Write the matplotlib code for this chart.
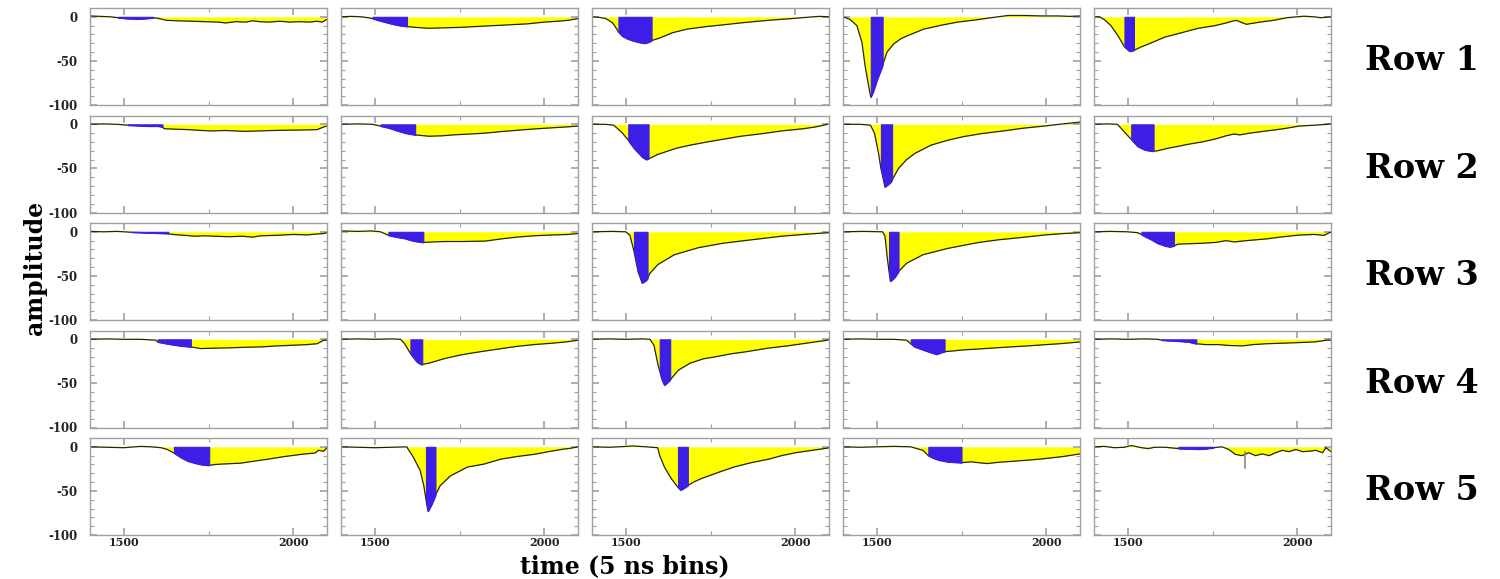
import numpy as np
import matplotlib.pyplot as plt

# ---- waveforms: time (5 ns bins) / amplitude ----
r1c1_t = [1400, 1430, 1460, 1483, 1510, 1540, 1565, 1587, 1605, 1625, 1660, 1700, 1740, 1780, 1800, 1830, 1860, 1880, 1900, 1930, 1960, 1990, 2020, 2050, 2070, 2085, 2100]
r1c1_a = [1, 0.5, 0, -1, -2, -2.5, -2, -1, -2, -4, -4.5, -5, -5.5, -6, -7, -5.5, -6, -4.5, -5.5, -6, -5, -6, -5.5, -6, -5, -6, -3]
r1c2_t = [1400, 1430, 1460, 1480, 1493, 1520, 1550, 1575, 1595, 1620, 1660, 1700, 1750, 1800, 1850, 1900, 1950, 2000, 2040, 2070, 2100]
r1c2_a = [0, 0.5, 0, -1, -2, -5, -8, -10, -11, -12, -13, -12.5, -12, -11, -10, -9, -8, -6, -5, -4, -2]
r1c3_t = [1400, 1420, 1441, 1461, 1470, 1478, 1490, 1505, 1520, 1540, 1555, 1565, 1576, 1600, 1638, 1680, 1739, 1790, 1837, 1890, 1936, 1990, 2037, 2070, 2100]
r1c3_a = [0, -0.5, -2, -7, -12, -17, -22, -25, -27, -29, -30, -29, -27, -24, -18, -14, -11, -9, -7, -5, -3.5, -2, -0.5, 0.5, 0]
r1c4_t = [1400, 1421, 1441, 1456, 1465, 1475, 1482, 1490, 1500, 1517, 1530, 1549, 1570, 1590, 1638, 1689, 1738, 1788, 1838, 1887, 1937, 1986, 2036, 2070, 2100]
r1c4_a = [0, -3, -10, -29, -55, -77, -91, -84, -72, -55, -40, -31, -25, -21.5, -14, -9.6, -6, -3.7, -1, 1.5, 1.5, 1, 1, 0.5, 1]
r1c5_t = [1400, 1415, 1430, 1450, 1470, 1490, 1505, 1518, 1540, 1560, 1609, 1659, 1708, 1757, 1790, 1808, 1820, 1850, 1890, 1930, 1970, 2020, 2050, 2070, 2100]
r1c5_a = [0, 0, -3, -10, -21, -34, -39, -38, -34, -31, -23, -18, -13, -10, -7, -5, -4, -8.5, -6, -4, -1, 0.7, 0, -1, 0]

r2c1_t = [1400, 1440, 1480, 1512, 1540, 1570, 1600, 1614, 1619, 1650, 1690, 1730, 1762, 1800, 1857, 1900, 1940, 1976, 2020, 2071, 2090, 2100]
r2c1_a = [0, 0.5, 0, -1, -1.5, -2, -2, -3, -5, -5.5, -6, -7, -7.5, -7, -8, -7.5, -7, -6.7, -6.5, -6, -3, -2]
r2c2_t = [1400, 1450, 1493, 1517, 1540, 1564, 1590, 1619, 1660, 1700, 1731, 1780, 1826, 1880, 1945, 2000, 2064, 2100]
r2c2_a = [0, 0.5, 0, -2, -4, -7, -10, -12, -13.5, -13, -12, -11, -10, -8, -6, -4.5, -3, -2]
r2c3_t = [1400, 1440, 1464, 1476, 1490, 1507, 1524, 1548, 1560, 1567, 1571, 1595, 1619, 1650, 1690, 1740, 1786, 1840, 1905, 1960, 2024, 2060, 2095]
r2c3_a = [0, 0, -1, -5, -10, -18, -27, -37, -40, -39, -38.5, -34, -31, -27, -23.6, -20, -17, -13.5, -10.5, -7.5, -5, -3, 0]
r2c4_t = [1400, 1450, 1481, 1493, 1505, 1512, 1524, 1540, 1545, 1564, 1588, 1612, 1660, 1710, 1755, 1810, 1874, 1930, 1993, 2050, 2100]
r2c4_a = [0, 0, -1, -10, -33, -50, -71, -66, -63, -50, -40, -33, -23.6, -18, -14, -10.5, -7.5, -4.5, -2, 0.5, 2.5]
r2c5_t = [1400, 1440, 1469, 1481, 1495, 1510, 1529, 1550, 1564, 1576, 1588, 1620, 1648, 1680, 1719, 1760, 1790, 1814, 1830, 1860, 1910, 1960, 2005, 2050, 2088, 2100]
r2c5_a = [0, 0.5, 0, -5, -11, -17, -25, -29, -30, -30.5, -30, -27, -25, -22.5, -20, -16.5, -13, -11, -12, -10, -7.5, -5, -2, -1, 0, 0.5]

r3c1_t = [1400, 1440, 1480, 1524, 1560, 1600, 1631, 1643, 1680, 1710, 1738, 1770, 1810, 1850, 1880, 1905, 1950, 2000, 2040, 2070, 2090, 2100]
r3c1_a = [0.5, 0, 0.5, -0.5, -1, -1.5, -2, -3, -4, -5, -4.5, -5, -5.6, -5, -6, -4.5, -4, -3, -3.5, -2.5, -2, -1]
r3c2_t = [1400, 1450, 1490, 1517, 1540, 1565, 1588, 1610, 1624, 1643, 1670, 1707, 1760, 1826, 1874, 1920, 1969, 2030, 2070, 2100]
r3c2_a = [1, 0.5, 1, 0, -4, -6, -7.5, -10, -11, -12, -11.5, -11, -11, -10.5, -8, -6, -4.5, -3.5, -3, -2]
r3c3_t = [1400, 1460, 1500, 1512, 1524, 1536, 1548, 1560, 1564, 1571, 1595, 1643, 1714, 1786, 1850, 1905, 1960, 2024, 2060, 2100]
r3c3_a = [0, 0.5, 0, -4, -22, -45, -58, -55, -53, -47, -37, -26, -18, -13, -10, -7.5, -5, -3, -2, -1]
r3c4_t = [1400, 1460, 1517, 1524, 1531, 1536, 1540, 1552, 1564, 1588, 1636, 1707, 1760, 1802, 1860, 1921, 1993, 2050, 2100]
r3c4_a = [0, 0.5, 0, -5, -30, -45, -56, -52, -45, -35.6, -26, -19, -15, -12, -9, -6.7, -3.7, -2, -1]
r3c5_t = [1400, 1450, 1500, 1529, 1540, 1552, 1570, 1588, 1610, 1624, 1636, 1648, 1680, 1719, 1760, 1790, 1814, 1850, 1880, 1910, 1950, 2005, 2050, 2080, 2095, 2100]
r3c5_a = [0, 0.5, 0, -1, -3, -5.6, -9, -13, -16, -17, -16, -14, -13.5, -13, -12, -10, -11.5, -10, -9, -8, -6, -3.7, -3, -4, -1, -0.5]

r4c1_t = [1400, 1450, 1500, 1550, 1595, 1600, 1620, 1643, 1670, 1698, 1726, 1770, 1810, 1860, 1905, 1950, 2000, 2040, 2071, 2090, 2100]
r4c1_a = [0, 0.5, 0, 0, -1, -3, -4.5, -6, -7.5, -8.6, -10.5, -10, -9.7, -9, -8.6, -7.5, -6.7, -6, -5, -1, -1]
r4c2_t = [1400, 1450, 1500, 1550, 1576, 1588, 1605, 1624, 1636, 1640, 1660, 1707, 1750, 1779, 1830, 1874, 1920, 1969, 2020, 2064, 2100]
r4c2_a = [0, 0.5, 0, 0.5, 0, -5, -16, -25.5, -28.5, -28.5, -27, -21.7, -18, -16, -13, -10.5, -8, -6, -4.5, -3, -1]
r4c3_t = [1400, 1450, 1500, 1550, 1571, 1583, 1595, 1600, 1607, 1614, 1631, 1655, 1690, 1730, 1762, 1810, 1857, 1920, 1976, 2040, 2095, 2100]
r4c3_a = [0, 0.5, 0, 0.5, 0, -6.7, -29, -36, -46, -52, -46, -35, -27, -22, -20, -16.5, -14, -10, -7.5, -4, -1, -0.5]
r4c4_t = [1400, 1450, 1500, 1550, 1588, 1600, 1612, 1630, 1648, 1676, 1690, 1700, 1730, 1755, 1800, 1850, 1900, 1945, 2000, 2040, 2070, 2100]
r4c4_a = [0, 0.5, 0, 0, -1, -5, -8.6, -11, -13.5, -17, -15, -14, -13, -12, -11, -9.7, -8.5, -7.5, -6, -5, -4, -3]
r4c5_t = [1400, 1450, 1500, 1550, 1588, 1600, 1648, 1680, 1702, 1730, 1767, 1800, 1838, 1870, 1910, 1950, 2005, 2050, 2088, 2100]
r4c5_a = [0, 0.5, 0, 0.5, 0, -1, -2, -3, -5, -6, -6, -7, -7.5, -6, -5, -4.5, -3.7, -3, -1, -1]

r5c1_t = [1400, 1450, 1500, 1550, 1580, 1610, 1628, 1648, 1668, 1688, 1710, 1727, 1752, 1770, 1787, 1820, 1846, 1880, 1926, 1975, 2025, 2065, 2075, 2090, 2100]
r5c1_a = [0, -0.5, -1, 0.5, 0, -1, -3, -7, -12, -16, -18.5, -20, -21, -20, -19.6, -19, -18.5, -16.5, -14, -11, -8.5, -7, -4, -5, -1]
r5c2_t = [1400, 1450, 1500, 1550, 1594, 1614, 1634, 1645, 1651, 1657, 1668, 1679, 1693, 1723, 1773, 1822, 1872, 1920, 1971, 2020, 2051, 2080, 2100]
r5c2_a = [0, -0.5, -1, -0.5, 0, -12, -27, -45, -60, -73, -65, -55, -44, -33, -23, -19.6, -14, -11, -8.5, -5, -3, -1.5, 0]
r5c3_t = [1400, 1450, 1480, 1520, 1560, 1594, 1600, 1614, 1634, 1650, 1654, 1662, 1675, 1683, 1700, 1723, 1773, 1822, 1870, 1922, 1960, 2001, 2050, 2095, 2100]
r5c3_a = [0, -0.5, 0, 1, 0, -1, -10, -23, -36, -44, -46, -49, -46, -44, -40, -36, -29, -22.6, -18, -14, -10, -6.7, -4, -1.5, -1]
r5c4_t = [1400, 1450, 1500, 1550, 1600, 1636, 1652, 1668, 1683, 1710, 1750, 1779, 1800, 1826, 1860, 1898, 1950, 1993, 2050, 2100]
r5c4_a = [0, -0.5, 0, 0.5, 0, -4, -10, -13, -15, -17, -18, -17, -18, -19, -17.5, -16.5, -15, -13.5, -11, -8]
r5c5_t = [1400, 1430, 1460, 1490, 1510, 1540, 1560, 1579, 1610, 1649, 1680, 1708, 1730, 1753, 1778, 1798, 1817, 1837, 1857, 1877, 1897, 1917, 1936, 1956, 1976, 1996, 2016, 2036, 2055, 2075, 2085, 2100]
r5c5_a = [0, 0.5, -1, -0.5, 1.5, -1, -2, -0.5, -0.5, -2, -2.3, -2.6, -2.2, -1, 0, -3, -8.5, -10, -6.7, -10, -8, -10, -6.7, -4, -5.5, -3, -5.5, -5, -4, -6.7, -1, -5.5]

# integration windows (blue), one (start, end) per column
row1_win = [(1483, 1587), (1493, 1595), (1478, 1576), (1482, 1517), (1490, 1518)]
row2_win = [(1512, 1614), (1517, 1619), (1507, 1567), (1512, 1545), (1510, 1576)]
row3_win = [(1524, 1631), (1540, 1643), (1524, 1564), (1536, 1564), (1540, 1636)]
row4_win = [(1600, 1698), (1605, 1640), (1600, 1631), (1600, 1700), (1600, 1702)]
row5_win = [(1648, 1752), (1651, 1679), (1654, 1683), (1652, 1750), (1649, 1753)]

# marker seen in the last panel
spike_t = 1845
spike_a = (-6, -24)

row_labels = ['Row 1', 'Row 2', 'Row 3', 'Row 4', 'Row 5']

waves = [
    [(r1c1_t, r1c1_a), (r1c2_t, r1c2_a), (r1c3_t, r1c3_a), (r1c4_t, r1c4_a), (r1c5_t, r1c5_a)],
    [(r2c1_t, r2c1_a), (r2c2_t, r2c2_a), (r2c3_t, r2c3_a), (r2c4_t, r2c4_a), (r2c5_t, r2c5_a)],
    [(r3c1_t, r3c1_a), (r3c2_t, r3c2_a), (r3c3_t, r3c3_a), (r3c4_t, r3c4_a), (r3c5_t, r3c5_a)],
    [(r4c1_t, r4c1_a), (r4c2_t, r4c2_a), (r4c3_t, r4c3_a), (r4c4_t, r4c4_a), (r4c5_t, r4c5_a)],
    [(r5c1_t, r5c1_a), (r5c2_t, r5c2_a), (r5c3_t, r5c3_a), (r5c4_t, r5c4_a), (r5c5_t, r5c5_a)],
]
windows = [row1_win, row2_win, row3_win, row4_win, row5_win]

W, H = 1500, 579
fig = plt.figure(figsize=(W / 100, H / 100), dpi=100)
font = dict(family='DejaVu Serif', fontweight='bold')
frame = '#a0a0a0'

for r in range(5):
    top = 8 + 107.5 * r
    for c in range(5):
        left = 90 + 251 * c
        ax = fig.add_axes([left / W, 1 - (top + 97) / H, 237 / W, 97 / H])
        t = np.array(waves[r][c][0])
        a = np.array(waves[r][c][1])
        ws, we = windows[r][c]

        ax.fill_between(t, a, 0, color='#ffff00', lw=0, zorder=1)
        ax.plot(t, a, color='#262600', lw=0.9, zorder=2)
        inwin = (t >= ws) & (t <= we)
        ax.fill_between(t, a, 0, where=inwin, facecolor='#3c1ee6',
                        edgecolor='#3c1ee6', lw=0.8, zorder=3)
        if r == 4 and c == 4:
            ax.plot([spike_t, spike_t], spike_a, color='#8a8a70', lw=1.2, zorder=4)

        ax.set_xlim(1400, 2100)
        ax.set_ylim(-100, 10)
        ax.set_xticks([1500, 2000])
        ax.set_xticks([1750], minor=True)
        ax.set_yticks([0, -50, -100])
        ax.set_yticks(range(-90, 10, 10), minor=True)
        ax.tick_params(which='both', direction='in', top=True, right=True,
                       color=frame, labelsize=8.5)
        ax.tick_params(which='major', length=5, width=1.2)
        ax.tick_params(which='minor', length=3, width=0.8)
        ax.tick_params(axis='y', pad=9)
        ax.tick_params(axis='x', pad=1.5, labelsize=8)
        for s in ax.spines.values():
            s.set_color(frame)
            s.set_linewidth(1)

        if c == 0:
            ax.set_yticklabels(['0', '-50', '-100'], **font, color='#222222')
        else:
            ax.set_yticklabels([])
        if r == 4:
            ax.set_xticklabels(['1500', '2000'], **font, color='#222222')
        else:
            ax.set_xticklabels([])

    fig.text(1422 / W, 1 - (top + 53) / H, row_labels[r], ha='center', va='center',
             fontsize=24, **font)

fig.text(35 / W, 1 - 268 / H, 'amplitude', rotation=90, ha='center', va='center',
         fontsize=17, **font)
fig.text(625 / W, 1 - 578.5 / H, 'time (5 ns bins)', ha='center', va='bottom',
         fontsize=17, **font)

plt.savefig('out.png', dpi=100)
